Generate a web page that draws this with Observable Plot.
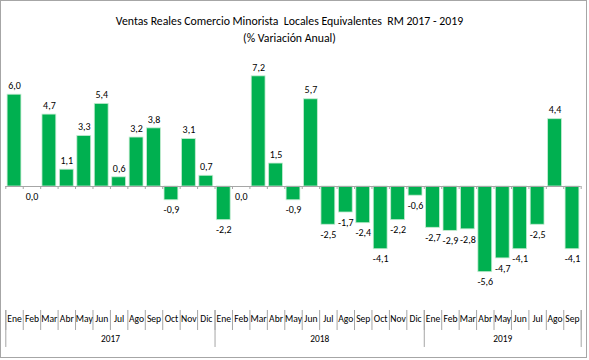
<!DOCTYPE html>
<html>
<head>
<meta charset="utf-8">
<script src="https://cdn.jsdelivr.net/npm/d3@7"></script>
<script src="https://cdn.jsdelivr.net/npm/@observablehq/plot@0.6"></script>
<style>
  html, body { margin: 0; padding: 0; background: #fff; }
  #frame { width: 585px; height: 356px; border: 1px solid #a6a6a6; background: #fff; }
  #frame svg { display: block; }
</style>
</head>
<body>
<div id="frame"></div>
<script>
const title = "Ventas Reales Comercio Minorista  Locales Equivalentes  RM 2017 - 2019";
const subtitle = "(% Variación Anual)";
const months = ["Ene","Feb","Mar","Abr","May","Jun","Jul","Ago","Sep","Oct","Nov","Dic"];
const years = ["2017","2018","2019"];
const values = [
  6.0, 0.0, 4.7, 1.1, 3.3, 5.4, 0.6, 3.2, 3.8, -0.9, 3.1, 0.7,
  -2.2, 0.0, 7.2, 1.5, -0.9, 5.7, -2.5, -1.7, -2.4, -4.1, -2.2, -0.6,
  -2.7, -2.9, -2.8, -5.6, -4.7, -4.1, -2.5, 4.4, -4.1
];

const fmt = v => d3.format(".1f")(v).replace(".", ",").replace("−", "-");
const rows = values.map((v, i) => ({
  i, v, month: months[i % 12], year: years[Math.floor(i / 12)], label: fmt(v)
}));
const n = rows.length;
const yearRows = years.map(y => {
  const idx = rows.filter(r => r.year === y).map(r => r.i);
  return { year: y, start: d3.min(idx), end: d3.max(idx) + 1 };
});
const yearBounds = [0, ...yearRows.map(d => d.end)];

const font = "Carlito, Calibri, 'Liberation Sans', Arial, sans-serif";
const grey = "#a6a6a6";

const chart = Plot.plot({
  width: 585,
  height: 356,
  marginLeft: 4.3,
  marginRight: 5.3,
  marginTop: 62.6,
  marginBottom: 79.2,
  x: { domain: [0, n], axis: null },
  y: { domain: [-6, 8], axis: null },
  style: { fontFamily: font, background: "#fff", color: "#000" },
  marks: [
    Plot.text([title], { frameAnchor: "top", text: d => d, dy: -47.6, dx: -4, fontSize: 11.8 }),
    Plot.text([subtitle], { frameAnchor: "top", text: d => d, dy: -30.6, dx: -4, fontSize: 11.8 }),
    Plot.rect(rows, {
      x1: "i", x2: d => d.i + 1, y1: 0, y2: "v",
      fill: "#00B050", stroke: "#c4ecd1", strokeWidth: 0.8,
      insetLeft: 1.8, insetRight: 1.8
    }),
    Plot.ruleY([0], { stroke: grey }),
    Plot.ruleX(d3.range(n + 1), { x: d => d, y1: 0, y2: 0, insetBottom: -3, stroke: grey }),
    Plot.text(rows.filter(d => d.v > 0), {
      x: d => d.i + 0.5, y: "v", text: "label", dy: -9, fontSize: 10, fill: "#000"
    }),
    Plot.text(rows.filter(d => d.v <= 0), {
      x: d => d.i + 0.5, y: "v", text: "label", dy: 10, fontSize: 10, fill: "#000"
    }),
    Plot.ruleX(d3.range(n + 1), { x: d => d, insetTop: 194.2, dy: 52.2, stroke: grey }),
    Plot.ruleX(yearBounds, { x: d => d, insetTop: 177.2, dy: 69.2, stroke: grey }),
    Plot.text(rows, {
      x: d => d.i + 0.5, text: "month", frameAnchor: "bottom", dy: 44, fontSize: 9.6, fill: "#000"
    }),
    Plot.text(yearRows, {
      x: d => (d.start + d.end) / 2, text: "year", frameAnchor: "bottom", dy: 64, fontSize: 9.4, fill: "#000"
    })
  ]
});
document.getElementById("frame").appendChild(chart);
</script>
</body>
</html>
